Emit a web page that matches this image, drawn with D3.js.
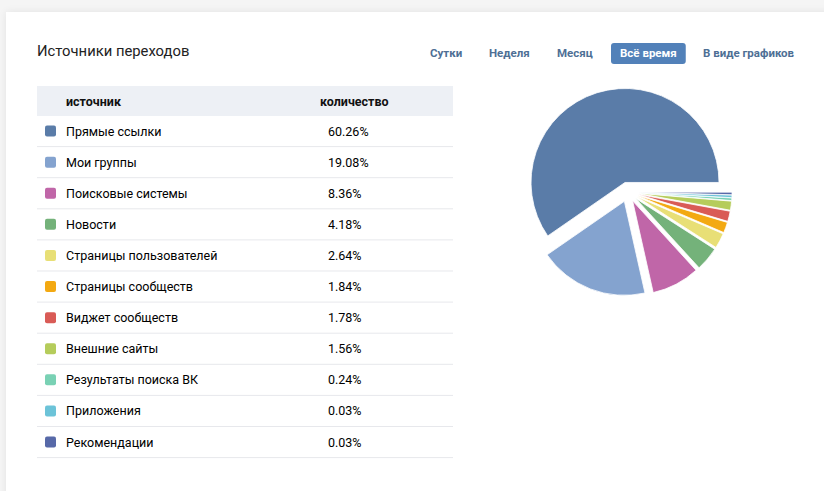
<!DOCTYPE html>
<html>
<head>
<meta charset="utf-8">
<script src="https://cdn.jsdelivr.net/npm/d3@7"></script>
<style>
  html, body { margin: 0; padding: 0; background: #f5f5f5; }
  #card {
    position: absolute; left: 6px; top: 12px; width: 830px; height: 490px;
    background: #fff; box-shadow: 0 0 8px rgba(0,0,0,0.08);
  }
  svg { position: absolute; left: 0; top: 0; }
</style>
</head>
<body>
<div id="card"></div>
<svg id="chart" width="824" height="491"></svg>
<script>
// sources and their share, in %
var sources = ["Прямые ссылки", "Мои группы", "Поисковые системы", "Новости",
  "Страницы пользователей", "Страницы сообществ", "Виджет сообществ",
  "Внешние сайты", "Результаты поиска ВК", "Приложения", "Рекомендации"];
var shares = [60.26, 19.08, 8.36, 4.18, 2.64, 1.84, 1.78, 1.56, 0.24, 0.03, 0.03];
var colors = ["#5a7ca8", "#84a3cf", "#c066a8", "#74b27a", "#e8df76", "#f3a912",
  "#d95b56", "#b5cc5b", "#79d1b4", "#6cc3d8", "#5769a8"];
var tabs = ["Сутки", "Неделя", "Месяц", "Всё время", "В виде графиков"];
var activeTab = "Всё время";

var svg = d3.select("#chart");
var font = "Roboto, 'Open Sans', sans-serif";

// Title
svg.append("text")
  .attr("x", 37).attr("y", 56)
  .style("font-family", font).style("font-size", "14.8px")
  .style("fill", "#222")
  .text("Источники переходов");

// Tabs on the right
var tabX = [430, 489, 557, 611, 703];
var tabG = svg.append("g");
tabs.forEach(function(t, i) {
  var isActive = t == activeTab;
  var txt = tabG.append("text")
    .attr("x", tabX[i] + (isActive ? 9 : 0)).attr("y", 57)
    .style("font-family", font).style("font-size", "11.5px").style("font-weight", "bold")
    .style("fill", isActive ? "#fff" : "#4e6f95")
    .text(t);
  if (isActive) {
    var w = txt.node().getComputedTextLength();
    tabG.insert("rect", "text")
      .attr("x", tabX[i]).attr("y", 43)
      .attr("width", w + 18).attr("height", 21).attr("rx", 3)
      .style("fill", "#5281b9");
  }
});

// Table
var table = {left: 37, right: 453, headTop: 86, headH: 30, rowH: 31.1};
var yRow = d3.scaleBand()
  .domain(sources)
  .range([table.headTop + table.headH, table.headTop + table.headH + table.rowH * sources.length]);

svg.append("rect")
  .attr("x", table.left).attr("y", table.headTop)
  .attr("width", table.right - table.left).attr("height", table.headH)
  .style("fill", "#edf0f5");

svg.append("text").attr("x", 66).attr("y", table.headTop + 19.5)
  .style("font-family", font).style("font-size", "12.5px").style("font-weight", "bold")
  .style("fill", "#111").text("источник");
svg.append("text").attr("x", 320).attr("y", table.headTop + 19.5)
  .style("font-family", font).style("font-size", "12.5px").style("font-weight", "bold")
  .style("fill", "#111").text("количество");

var rows = svg.append("g").selectAll("g")
  .data(sources)
  .join("g")
  .attr("transform", function(d) { return "translate(0," + yRow(d) + ")"; });

rows.append("line")
  .attr("x1", table.left).attr("x2", table.right)
  .attr("y1", yRow.bandwidth() - 0.5).attr("y2", yRow.bandwidth() - 0.5)
  .style("stroke", "#e7e8ec");

rows.append("rect")
  .attr("x", 45).attr("y", yRow.bandwidth() / 2 - 6)
  .attr("width", 11).attr("height", 11).attr("rx", 2)
  .style("fill", function(d, i) { return colors[i]; });

rows.append("text")
  .attr("x", 66).attr("y", yRow.bandwidth() / 2 + 4)
  .style("font-family", font).style("font-size", "12.5px").style("fill", "#000")
  .text(function(d) { return d; });

rows.append("text")
  .attr("x", 328).attr("y", yRow.bandwidth() / 2 + 4)
  .style("font-family", font).style("font-size", "12.5px").style("fill", "#000")
  .text(function(d, i) { return shares[i].toFixed(2) + "%"; });

// Pie: starts at 3 o'clock and runs counterclockwise, every slice pulled out.
// Very small shares get a minimal visible wedge, as in the original widget.
var cx = 628, cy = 192, radius = 94, sliceOffset = 10, minShare = 0.45;
var pie = d3.pie().sort(null)
  .value(function(d) { return Math.max(d, minShare); })
  .startAngle(Math.PI / 2).endAngle(Math.PI / 2 - 2 * Math.PI);
var arc = d3.arc().innerRadius(0).outerRadius(radius);

var pieG = svg.append("g").attr("transform", "translate(" + cx + "," + cy + ")");
pieG.selectAll("path")
  .data(pie(shares))
  .join("path")
  .attr("d", arc)
  .attr("transform", function(d) {
    var mid = (d.startAngle + d.endAngle) / 2;
    return "translate(" + (Math.sin(mid) * sliceOffset) + "," + (-Math.cos(mid) * sliceOffset) + ")";
  })
  .style("fill", function(d, i) { return colors[i]; })
  .style("stroke", "#fff").style("stroke-width", 0.8).style("stroke-linejoin", "round");
</script>
</body>
</html>
